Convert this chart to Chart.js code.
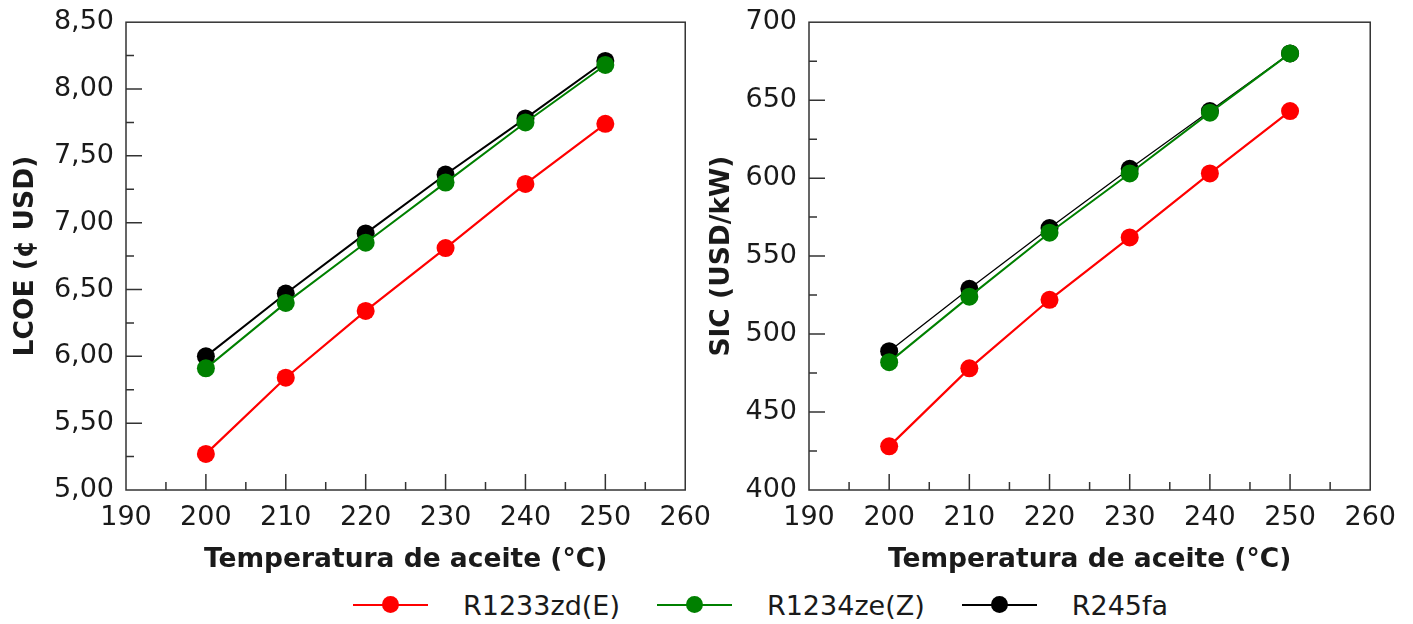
<!DOCTYPE html>
<html>
<head>
<meta charset="utf-8">
<script src="https://cdn.jsdelivr.net/npm/chart.js@4"></script>
<style>
  body { margin: 0; background: #fff; width: 1413px; height: 624px; position: relative; overflow: hidden; }
  canvas { position: absolute; top: -6px; }
  #lcoeChart { left: 0; }
  #sicChart { left: 700px; }
  #legend { position: absolute; left: 353px; top: 589px; height: 32px; display: flex; align-items: center;
            font-family: 'DejaVu Sans', sans-serif; font-size: 27px; color: #1a1a1a; }
  .item { display: flex; align-items: center; margin-right: 37px; }
  .swatch { position: relative; width: 75px; height: 2px; margin-right: 35px; }
  .swatch span { position: absolute; left: 29px; top: -8px; width: 17px; height: 17px; border-radius: 50%; }
</style>
</head>
<body>
<canvas id="lcoeChart" width="723" height="586"></canvas>
<canvas id="sicChart" width="708" height="586"></canvas>
<div id="legend"></div>
<script>
// =========================
// DATA
// =========================

const temps = [200, 210, 220, 230, 240, 250];

const seriesNames = ['R1233zd(E)', 'R1234ze(Z)', 'R245fa'];
const seriesColors = ['#ff0000', '#008000', '#000000'];

const lcoeR1233 = [5.27, 5.84, 6.34, 6.81, 7.29, 7.74];
const lcoeR1234 = [5.91, 6.40, 6.85, 7.30, 7.75, 8.18];
const lcoeR245 = [6.00, 6.47, 6.92, 7.36, 7.78, 8.21];

const sicR1233 = [428, 478, 522, 562, 603, 643];
const sicR1234 = [482, 524, 565, 603, 642, 680];
const sicR245 = [489, 529, 568, 606, 643, 680];

const textColor = '#1a1a1a';
const axisColor = '#333333';


// =========================
// FRAME + INWARD TICKS
// =========================

const framePlugin = {
  id: 'frame',
  beforeDatasetsDraw(chart, args, opts) {
    const ctx = chart.ctx;
    const a = chart.chartArea;
    const x = chart.scales.x;
    const y = chart.scales.y;

    ctx.save();
    ctx.strokeStyle = axisColor;
    ctx.lineWidth = 1.5;
    ctx.strokeRect(a.left, a.top, a.right - a.left, a.bottom - a.top);

    ctx.beginPath();
    const nx = Math.round((x.max - x.min) / opts.xMinor);
    for (let i = 1; i < nx; i++) {
      const px = x.getPixelForValue(x.min + i * opts.xMinor);
      const len = i % 2 === 0 ? 16 : 8;
      ctx.moveTo(px, a.bottom);
      ctx.lineTo(px, a.bottom - len);
    }
    const ny = Math.round((y.max - y.min) / opts.yMinor);
    for (let i = 1; i < ny; i++) {
      const py = y.getPixelForValue(y.min + i * opts.yMinor);
      const len = i % 2 === 0 ? 16 : 8;
      ctx.moveTo(a.left, py);
      ctx.lineTo(a.left + len, py);
    }
    ctx.stroke();
    ctx.restore();
  }
};


// =========================
// CHART BUILDER
// =========================

function makeChart(id, values, cfg) {

  const datasets = values.map((vals, i) => ({
    label: seriesNames[i],
    data: temps.map((t, j) => ({ x: t, y: vals[j] })),
    borderColor: seriesColors[i],
    backgroundColor: seriesColors[i],
    pointBackgroundColor: seriesColors[i],
    pointBorderWidth: 0,
    pointRadius: 9,
    borderWidth: cfg.widths[i],
    tension: 0
  }));

  return new Chart(document.getElementById(id), {
    type: 'line',
    data: { datasets: datasets },
    plugins: [framePlugin],
    options: {
      responsive: false,
      animation: false,
      layout: { padding: { left: 0, top: 15, right: 23, bottom: 0 } },
      plugins: {
        legend: { display: false },
        tooltip: { enabled: false },
        frame: { xMinor: 5, yMinor: cfg.yStep / 2 }
      },
      scales: {
        x: {
          type: 'linear',
          min: 190,
          max: 260,
          grid: { display: false, drawTicks: false },
          border: { display: false },
          ticks: {
            stepSize: 10,
            autoSkip: false,
            maxRotation: 0,
            padding: 12,
            color: textColor,
            font: { family: 'DejaVu Sans', size: 27 }
          },
          title: {
            display: true,
            text: 'Temperatura de aceite (°C)',
            color: textColor,
            padding: { top: 0, bottom: 4 },
            font: { family: 'DejaVu Sans', size: 26.5, weight: 'bold' }
          },
          afterFit(scale) { scale.height = 90; }
        },
        y: {
          min: cfg.yMin,
          max: cfg.yMax,
          grid: { display: false, drawTicks: false },
          border: { display: false },
          ticks: {
            stepSize: cfg.yStep,
            padding: 12,
            color: textColor,
            font: { family: 'DejaVu Sans', size: 27 },
            callback: cfg.format
          },
          title: {
            display: true,
            text: cfg.yTitle,
            color: textColor,
            padding: { top: cfg.titlePad, bottom: 0 },
            font: { family: 'DejaVu Sans', size: 26.5, weight: 'bold' }
          },
          afterFit(scale) { scale.width = cfg.yWidth; }
        }
      }
    }
  });
}


// =========================
// LCOE
// =========================

makeChart('lcoeChart', [lcoeR1233, lcoeR1234, lcoeR245], {
  yMin: 5, yMax: 8.5, yStep: 0.5,
  yTitle: 'LCOE (¢ USD)',
  yWidth: 126, titlePad: 10,
  widths: [2.2, 2, 2],
  format: v => v.toFixed(2).replace('.', ',')
});


// =========================
// SIC
// =========================

makeChart('sicChart', [sicR1233, sicR1234, sicR245], {
  yMin: 400, yMax: 700, yStep: 50,
  yTitle: 'SIC (USD/kW)',
  yWidth: 109, titlePad: 6,
  widths: [2.2, 2, 1.3],
  format: v => String(v)
});


// =========================
// LEGEND
// =========================

const legend = document.getElementById('legend');

seriesNames.forEach((name, i) => {
  legend.innerHTML += `
    <div class="item">
      <div class="swatch" style="background:${seriesColors[i]}">
        <span style="background:${seriesColors[i]}"></span>
      </div>
      <div>${name}</div>
    </div>
  `;
});
</script>
</body>
</html>
